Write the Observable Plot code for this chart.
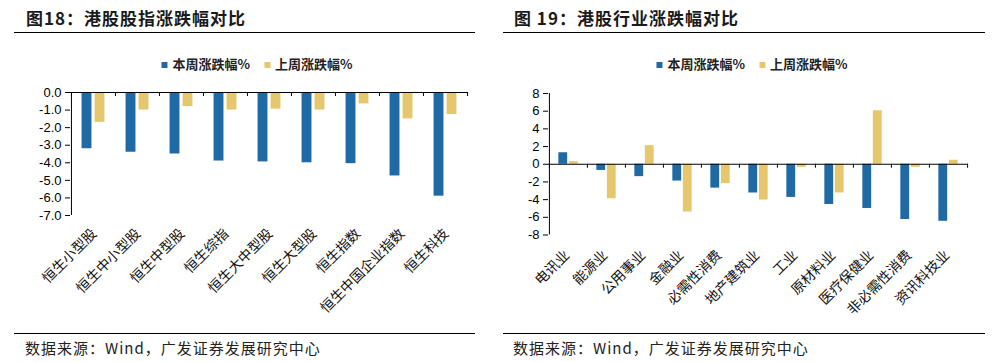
<!DOCTYPE html>
<html><head><meta charset="utf-8">
<script src="https://cdn.jsdelivr.net/npm/d3@7"></script>
<script src="https://cdn.jsdelivr.net/npm/@observablehq/plot@0.6"></script>
<style>
body{margin:0;width:994px;height:362px;background:#fff;position:relative;overflow:hidden;font-family:"Noto Sans CJK SC",sans-serif;}
.abs{position:absolute}
.title{font-weight:bold;font-size:17px;top:5px;color:#1a1a1a;white-space:nowrap;letter-spacing:1px;line-height:26px}
.rule{height:1px;background:#000}
.legend{top:55px;font-size:13px;font-weight:600;transform:translateX(-50%);white-space:nowrap;color:#222;line-height:18px}
.legend span.item{margin:0 7px}
.sw{display:inline-block;width:6px;height:6px;margin-right:5px;vertical-align:1px}
.src{font-size:15px;top:338px;color:#222;white-space:nowrap;letter-spacing:1px;line-height:20px}
</style></head><body>
<div class="abs title" style="left:26px">图18：港股股指涨跌幅对比</div>
<div class="abs rule" style="left:14px;top:32px;width:461px"></div>
<div class="abs title" style="left:514px">图 19：港股行业涨跌幅对比</div>
<div class="abs rule" style="left:503px;top:32px;width:482px"></div>
<div id="leg1" class="abs legend" style="left:257px"></div>
<div id="leg2" class="abs legend" style="left:752px"></div>
<div id="c1" class="abs" style="left:0;top:80px"></div>
<div id="c2" class="abs" style="left:497px;top:80px"></div>
<div class="abs rule" style="left:14px;top:333px;width:461px"></div>
<div class="abs rule" style="left:503px;top:333px;width:482px"></div>
<div class="abs src" style="left:25px">数据来源：Wind，广发证券发展研究中心</div>
<div class="abs src" style="left:513px">数据来源：Wind，广发证券发展研究中心</div>
<script>
const seriesNames = ["本周涨跌幅%", "上周涨跌幅%"];
const seriesColors = ["#1f6aa5", "#e6c76e"];

const indexCats = ["恒生小型股","恒生中小型股","恒生中型股","恒生综指","恒生大中型股","恒生大型股","恒生指数","恒生中国企业指数","恒生科技"];
const indexThisWeek = [-3.2,-3.4,-3.5,-3.9,-3.95,-4.0,-4.05,-4.75,-5.9];
const indexLastWeek = [-1.7,-1.0,-0.8,-1.0,-0.95,-1.0,-0.65,-1.5,-1.25];
const indexYTicks = [0,-1,-2,-3,-4,-5,-6,-7];

const sectorCats = ["电讯业","能源业","公用事业","金融业","必需性消费","地产建筑业","工业","原材料业","医疗保健业","非必需性消费","资讯科技业"];
const sectorThisWeek = [1.3,-0.7,-1.4,-1.9,-2.7,-3.25,-3.75,-4.55,-5.0,-6.25,-6.45];
const sectorLastWeek = [0.3,-3.9,2.1,-5.4,-2.2,-4.05,-0.35,-3.25,6.05,-0.35,0.45];
const sectorYTicks = [8,6,4,2,0,-2,-4,-6,-8];

function legend(el){
  el.innerHTML = seriesNames.map((n,i)=>`<span class="item"><span class="sw" style="background:${seriesColors[i]}"></span>${n}</span>`).join("");
}
legend(document.getElementById("leg1"));
legend(document.getElementById("leg2"));

function chart({cats, a, b, yTicks, fmt, width, height, mt, mb, ml, mr, tickLen, barW, gap, ldx, ldy}) {
  const rows = cats.flatMap((c,i)=>[{cat:c, s:seriesNames[0], v:a[i]},{cat:c, s:seriesNames[1], v:b[i]}]);
  const half = (width-ml-mr)/cats.length/2;
  const ymin = d3.min(yTicks), ymax = d3.max(yTicks);
  return Plot.plot({
    width, height, marginTop: mt, marginBottom: mb, marginLeft: ml, marginRight: mr,
    style: {fontFamily: '"Liberation Sans","Noto Sans CJK SC",sans-serif', fontSize: "13px", color: "#000", background: "transparent", overflow: "visible"},
    x: {domain: cats, padding: 0, axis: null},
    y: {domain: [ymin, ymax], ticks: yTicks, tickFormat: fmt, tickSize: 5, tickPadding: 4, label: null},
    color: {domain: seriesNames, range: seriesColors},
    marks: [
      Plot.barY(rows.filter(d=>d.s===seriesNames[0]), {x:"cat", y:"v", fill:"s", insetLeft: half - gap/2 - barW, insetRight: half + gap/2}),
      Plot.barY(rows.filter(d=>d.s===seriesNames[1]), {x:"cat", y:"v", fill:"s", insetLeft: half + gap/2, insetRight: half - gap/2 - barW}),
      Plot.ruleY([0], {stroke: "#000"}),
      Plot.ruleX(cats, {x: d=>d, dx: -half, y1: 0, y2: tickLen, stroke: "#000"}),
      Plot.ruleX([cats[cats.length-1]], {x: d=>d, dx: half, y1: 0, y2: tickLen, stroke: "#000"}),
      Plot.ruleX([cats[0]], {x: d=>d, dx: -half, y1: ymin, y2: ymax, stroke: "#000"}),
      Plot.text(cats, {x: d=>d, y: ymin, text: d=>d, rotate: -45, textAnchor: "end", lineAnchor: "bottom", dx: ldx, dy: ldy, fontSize: 14, fill: "#111"})
    ]
  });
}

document.getElementById("c1").append(chart({
  cats: indexCats, a: indexThisWeek, b: indexLastWeek, yTicks: indexYTicks,
  fmt: d => d.toFixed(1), width: 497, height: 240, mt: 12, mb: 105, ml: 70, mr: 30,
  tickLen: -0.23, barW: 10, gap: 3, ldx: 4, ldy: 19
}));
document.getElementById("c2").append(chart({
  cats: sectorCats, a: sectorThisWeek, b: sectorLastWeek, yTicks: sectorYTicks,
  fmt: d => String(d), width: 497, height: 240, mt: 13, mb: 85.5, ml: 51, mr: 26,
  tickLen: -0.45, barW: 9, gap: 1.5, ldx: 2, ldy: 21
}));
</script>
</body></html>
